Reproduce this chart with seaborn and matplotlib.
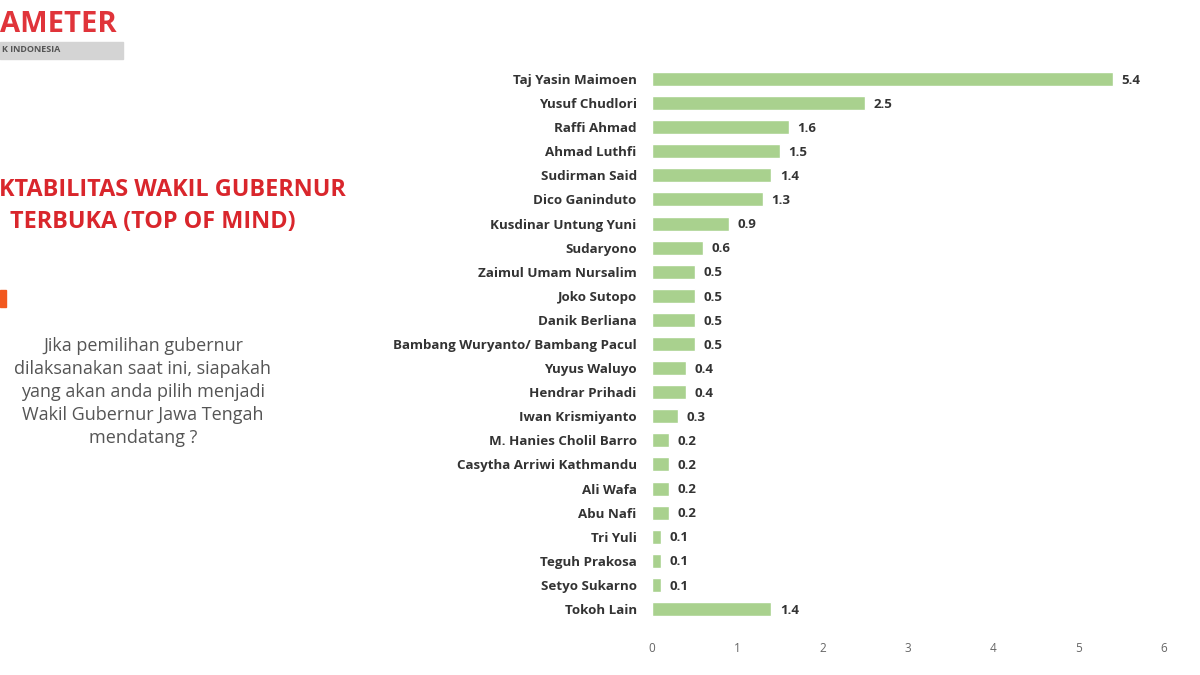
import matplotlib
matplotlib.use("Agg")
import matplotlib.pyplot as plt
import seaborn as sns
import pandas as pd

names = ["Taj Yasin Maimoen", "Yusuf Chudlori", "Raffi Ahmad", "Ahmad Luthfi",
         "Sudirman Said", "Dico Ganinduto", "Kusdinar Untung Yuni", "Sudaryono",
         "Zaimul Umam Nursalim", "Joko Sutopo", "Danik Berliana",
         "Bambang Wuryanto/ Bambang Pacul", "Yuyus Waluyo", "Hendrar Prihadi",
         "Iwan Krismiyanto", "M. Hanies Cholil Barro", "Casytha Arriwi Kathmandu",
         "Ali Wafa", "Abu Nafi", "Tri Yuli", "Teguh Prakosa", "Setyo Sukarno",
         "Tokoh Lain"]
values = [5.4, 2.5, 1.6, 1.5, 1.4, 1.3, 0.9, 0.6, 0.5, 0.5, 0.5, 0.5, 0.4, 0.4,
          0.3, 0.2, 0.2, 0.2, 0.2, 0.1, 0.1, 0.1, 1.4]
x_ticks = [0, 1, 2, 3, 4, 5, 6]

df = pd.DataFrame({"name": names, "value": values})

sns.set_theme(style="white")
plt.rcParams["font.family"] = ["Open Sans", "DejaVu Sans"]

fig = plt.figure(figsize=(12, 6.75), dpi=100)
ax = fig.add_axes([652/1200, 1-621/675, (1164-652)/1200, (621-67)/675])

sns.barplot(data=df, x="value", y="name", color="#a9d18e", saturation=1,
            width=0.58, ax=ax, orient="h")
ax.set_xlim(0, 6)
ax.set_xticks(x_ticks)
ax.set_xticklabels([str(t) for t in x_ticks], fontsize=8.5, color="#666666")
ax.tick_params(axis="x", length=0, pad=15)
ax.tick_params(axis="y", length=0, pad=11)
for lbl in ax.get_yticklabels():
    lbl.set_fontsize(9.6)
    lbl.set_fontweight("bold")
    lbl.set_color("#333333")
ax.set_xlabel("")
ax.set_ylabel("")
for s in ax.spines.values():
    s.set_visible(False)

for i, v in enumerate(values):
    ax.text(v + 0.1, i + 0.05, f"{v:.1f}", va="center", ha="left", fontsize=9.5,
            fontweight="bold", color="#333333")

# Logo (partially cropped)
fig.text(0.0, 1-25/675, "AMETER", fontsize=21, fontweight="bold",
         color="#e0343a", ha="left", va="center")
fig.patches.append(plt.Rectangle((0, 1-59/675), 123/1200, 17/675,
                                 transform=fig.transFigure, color="#d4d4d4",
                                 zorder=0))
fig.text(0.002, 1-50/675, "K INDONESIA", fontsize=6.5, fontweight="bold",
         color="#555555", ha="left", va="center")

# Title
fig.text(346/1200, 1-190/675, "KTABILITAS WAKIL GUBERNUR", fontsize=16.8,
         fontweight="bold", color="#d9262c", ha="right", va="center")
fig.text(153/1200, 1-222/675, "TERBUKA (TOP OF MIND)", fontsize=16.8,
         fontweight="bold", color="#d9262c", ha="center", va="center")

# Orange marker
fig.patches.append(plt.Rectangle((0, 1-307/675), 6/1200, 17/675,
                                 transform=fig.transFigure, color="#f2581f"))

# Question
fig.text(143/1200, 1-392/675,
         "Jika pemilihan gubernur\ndilaksanakan saat ini, siapakah\n"
         "yang akan anda pilih menjadi\nWakil Gubernur Jawa Tengah\nmendatang ?",
         fontsize=13, color="#555555", ha="center", va="center",
         linespacing=1.35)

fig.savefig("out.png", dpi=100, facecolor="white")
